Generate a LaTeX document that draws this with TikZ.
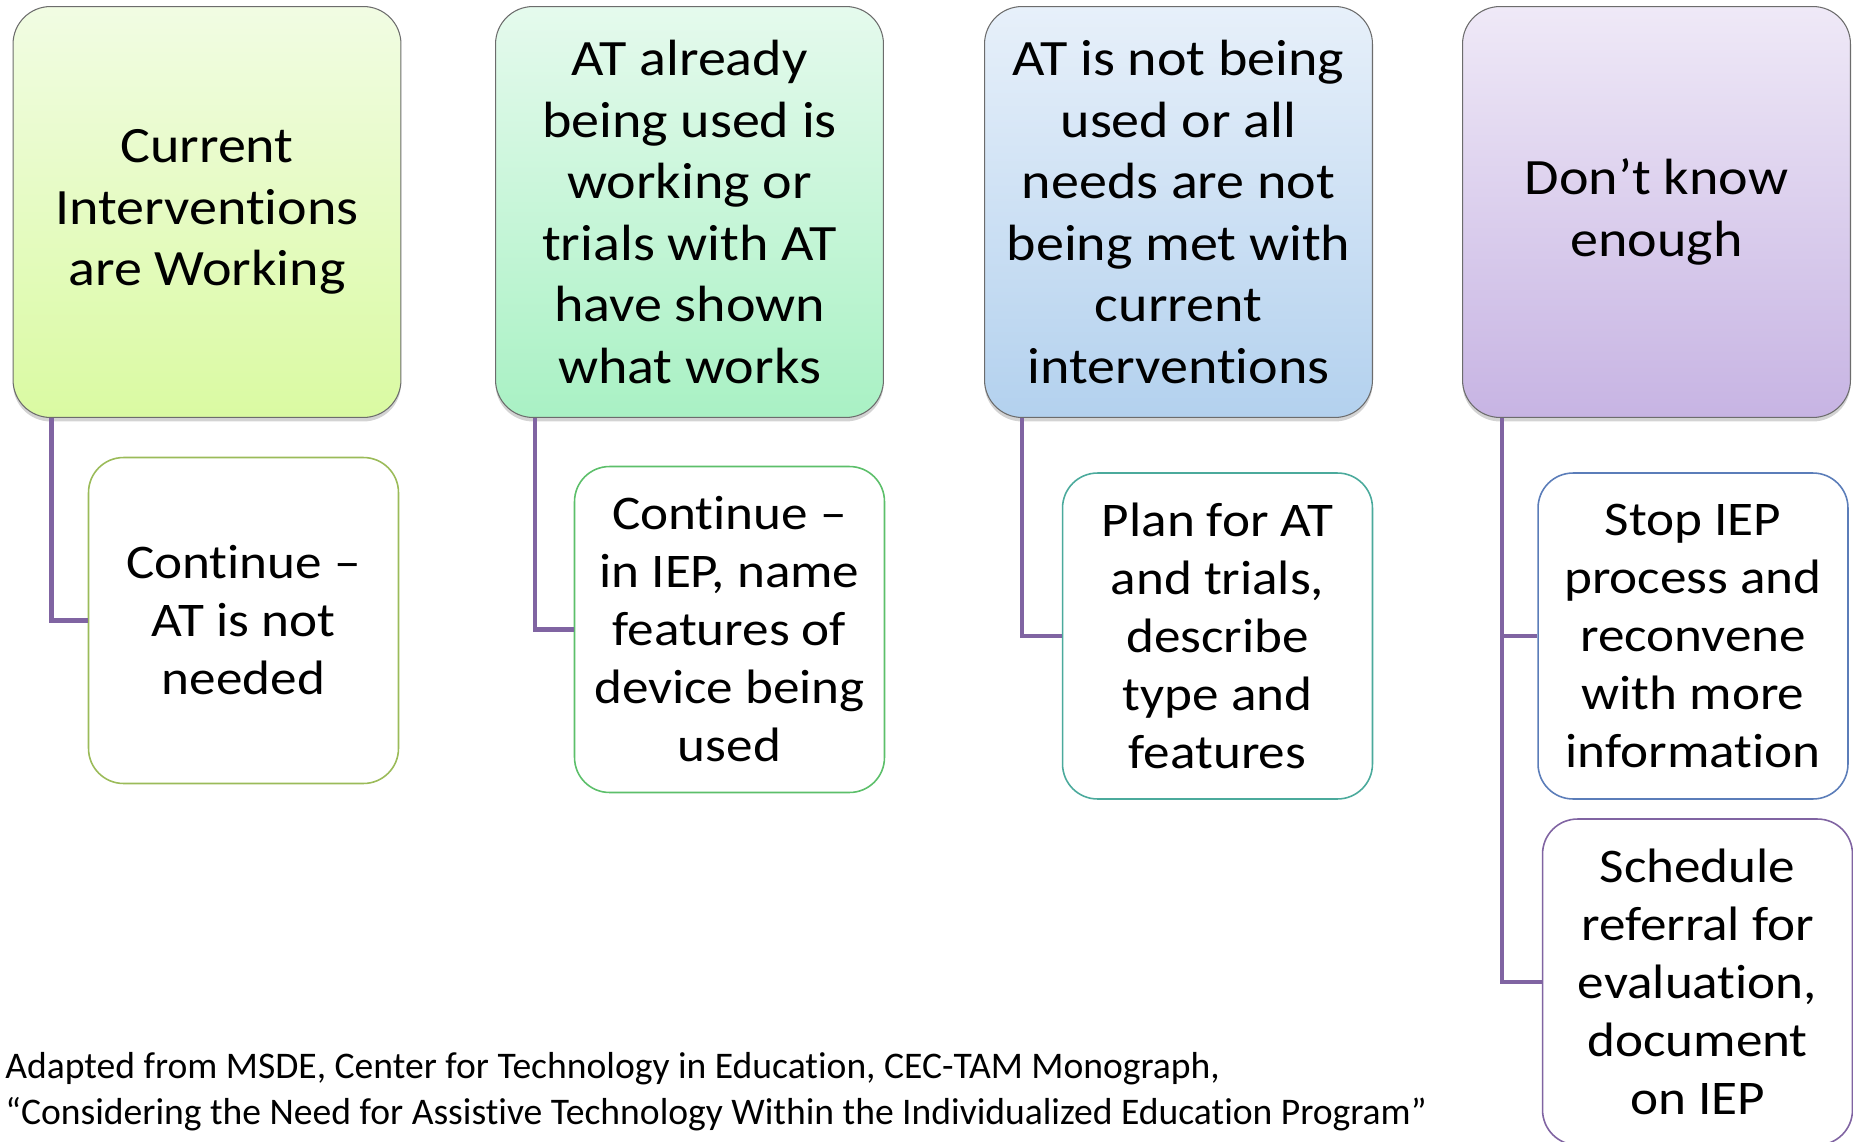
\documentclass[tikz,border=0pt]{standalone}
\usepackage{fontspec}
\setmainfont{Carlito}[Ligatures={TeX,NoCommon}]
\newfontfamily\boxfont{Carlito}[FakeStretch=1.1, Ligatures={TeX,NoCommon}]
\usetikzlibrary{shadows}

\definecolor{linkpurple}{HTML}{8064A2}
\definecolor{limetop}{HTML}{F1FCE3}
\definecolor{limebot}{HTML}{DAFAA2}
\definecolor{minttop}{HTML}{E5FAED}
\definecolor{mintbot}{HTML}{A9F1C4}
\definecolor{skytop}{HTML}{E7F0FA}
\definecolor{skybot}{HTML}{B3D1EE}
\definecolor{lilactop}{HTML}{EFE9F7}
\definecolor{lilacbot}{HTML}{C7B4E3}
\definecolor{limeline}{HTML}{9BBB59}
\definecolor{mintline}{HTML}{5CBF6A}
\definecolor{tealline}{HTML}{4BAA9C}
\definecolor{blueline}{HTML}{5B7DB9}

\begin{document}
\begin{tikzpicture}[x=0.02cm, y=-0.02cm,
  topbox/.style={rounded corners=0.75cm, draw=gray!85!black, line width=0.6pt,
    minimum width=7.76cm, minimum height=8.22cm, align=center,
    font=\boxfont\fontsize{29}{35}\selectfont,
    drop shadow={shadow xshift=0pt, shadow yshift=-0.08cm, opacity=0.35}},
  subbox/.style={rounded corners=0.7cm, fill=white, line width=0.9pt,
    minimum width=6.2cm, minimum height=6.52cm, align=center,
    font=\boxfont\fontsize{27.5}{33}\selectfont},
  link/.style={draw=linkpurple, line width=2.8pt}]
\useasboundingbox (0,0) rectangle (1853,1142);

\node (top1) at (207, 212) [topbox, top color=limetop, bottom color=limebot]
  {Current\\Interventions\\are Working};
\node (top2) at (689.5, 212) [topbox, top color=minttop, bottom color=mintbot]
  {AT already\\being used is\\working or\\trials with AT\\have shown\\what works};
\node (top3) at (1178.5, 212) [topbox, top color=skytop, bottom color=skybot]
  {AT is not being\\used or all\\needs are not\\being met with\\current\\interventions};
\node (top4) at (1656.5, 212) [topbox, top color=lilactop, bottom color=lilacbot]
  {Don’t know\\enough};

\node (sub1) at (243.5, 620.5) [subbox, draw=limeline] {Continue --\\AT is not\\needed};
\node (sub2) at (729.5, 629.5) [subbox, draw=mintline]
  {Continue --\\in IEP, name\\features of\\device being\\used};
\node (sub3) at (1217.5, 636) [subbox, draw=tealline]
  {Plan for AT\\and trials,\\describe\\type and\\features};
\node (sub4a) at (1693, 636) [subbox, draw=blueline]
  {Stop IEP\\process and\\reconvene\\with more\\information};
\node (sub4b) at (1697.5, 982) [subbox, draw=linkpurple]
  {Schedule\\referral for\\evaluation,\\document\\on IEP};

\draw[link] (top1.south west) ++(39,0) |- (sub1.west);
\draw[link] (top2.south west) ++(40,0) |- (sub2.west);
\draw[link] (top3.south west) ++(38,0) |- (sub3.west);
\draw[link] (top4.south west) ++(40,0) |- (sub4a.west);
\draw[link] (top4.south west) ++(40,0) |- (sub4b.west);

\node (source) at (5, 1052) [anchor=north west, inner sep=0pt, align=left,
  font=\fontsize{21.4}{26}\selectfont]
  {Adapted from MSDE, Center for Technology in Education, CEC-TAM Monograph,\\
   “Considering the Need for Assistive Technology Within the Individualized Education Program”};
\end{tikzpicture}
\end{document}
